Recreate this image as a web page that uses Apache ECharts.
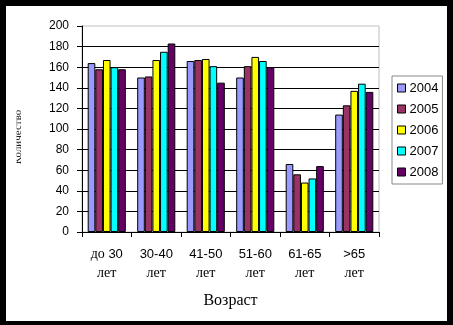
<!DOCTYPE html>
<html>
<head>
<meta charset="utf-8">
<script src="https://cdn.jsdelivr.net/npm/echarts@6/dist/echarts.min.js"></script>
<style>
  html, body { margin: 0; padding: 0; background: #000; }
  #chart { width: 453px; height: 325px; }
</style>
</head>
<body>
<div id="chart"></div>
<script>
// Age groups along the x axis
const categories = ['до 30\nлет', '30-40\nлет', '41-50\nлет', '51-60\nлет', '61-65\nлет', '>65\nлет'];
const years = ['2004', '2005', '2006', '2007', '2008'];

// Counts per age group, one array per year
const v2004 = [164, 150, 166, 150, 66, 114];
const v2005 = [158, 151, 167, 161, 56, 123];
const v2006 = [167, 167, 168, 170, 48, 137];
const v2007 = [160, 175, 161, 166, 52, 144];
const v2008 = [158, 183, 145, 160, 64, 136];

const seriesValues = [v2004, v2005, v2006, v2007, v2008];
const colors = ['#9999FF', '#993366', '#FFFF00', '#00FFFF', '#660066'];

const yTicks = { min: 0, max: 200, interval: 20 };

// Split a label into Cyrillic runs (serif) and the rest (sans)
function mixFonts(text) {
  return text.split('\n').map(function (line) {
    return line.replace(/([А-Яа-яЁё]+)|([^А-Яа-яЁё]+)/g, function (m, cyr) {
      return cyr ? '{c|' + m + '}' : '{d|' + m + '}';
    });
  }).join('\n');
}

const chart = echarts.init(document.getElementById('chart'), null, { renderer: 'canvas' });

chart.setOption({
  backgroundColor: '#000',
  animation: false,
  graphic: [
    {
      type: 'rect', z: -10, silent: true,
      shape: { x: 6, y: 6, width: 441, height: 315 },
      style: { fill: '#fff' }
    },
    {
      type: 'text', z: 5, silent: true,
      x: 18, y: 137, rotation: Math.PI / 2,
      style: {
        text: 'Количество', fill: '#222',
        font: '11px "Liberation Serif"',
        align: 'center', verticalAlign: 'middle'
      }
    },
    {
      // the axis title is partly hidden by the chart area edge
      type: 'rect', z: 6, silent: true,
      shape: { x: 6, y: 90, width: 10.5, height: 100 },
      style: { fill: '#fff' }
    }
  ],
  grid: {
    left: 82, top: 26, right: 74, bottom: 93,
    show: true, borderColor: '#c0c0c0', borderWidth: 1,
    backgroundColor: 'transparent'
  },
  legend: {
    orient: 'vertical',
    left: 392, top: 76,
    width: 51,
    padding: [5, 4, 5, 5],
    itemGap: 7,
    itemWidth: 8, itemHeight: 8,
    borderColor: '#888', borderWidth: 1,
    backgroundColor: '#fff',
    icon: 'rect',
    itemStyle: { borderColor: '#000', borderWidth: 1 },
    textStyle: {
      fontFamily: 'Liberation Sans', fontSize: 13, color: '#000',
      lineHeight: 14, padding: [0, 0, 0, -1]
    },
    data: years
  },
  xAxis: {
    type: 'category',
    data: categories,
    name: 'Возраст',
    nameLocation: 'middle',
    nameGap: 61,
    nameTextStyle: { fontFamily: 'Liberation Serif', fontSize: 16, color: '#000' },
    axisLine: { lineStyle: { color: '#000', width: 1 } },
    axisTick: { show: true, length: 5, lineStyle: { color: '#000' } },
    axisLabel: {
      margin: 13,
      color: '#000',
      interval: 0,
      formatter: mixFonts,
      rich: {
        c: { fontFamily: 'Liberation Serif', fontSize: 14, lineHeight: 19, color: '#000' },
        d: { fontFamily: 'Liberation Sans', fontSize: 13, lineHeight: 19, color: '#000' }
      }
    }
  },
  yAxis: {
    type: 'value',
    min: yTicks.min, max: yTicks.max, interval: yTicks.interval,
    axisLine: { show: true, lineStyle: { color: '#000', width: 1 } },
    axisTick: { show: true, length: 5, lineStyle: { color: '#000' } },
    axisLabel: { fontFamily: 'Liberation Sans', fontSize: 12, color: '#000', margin: 13 },
    splitLine: { show: true, showMaxLine: false, lineStyle: { color: '#000', width: 1 } }
  },
  series: years.map(function (y, i) {
    return {
      name: y,
      type: 'bar',
      data: seriesValues[i],
      barGap: '0%',
      barCategoryGap: '23%',
      itemStyle: { color: colors[i], borderColor: '#000', borderWidth: 1 }
    };
  })
});
</script>
</body>
</html>
